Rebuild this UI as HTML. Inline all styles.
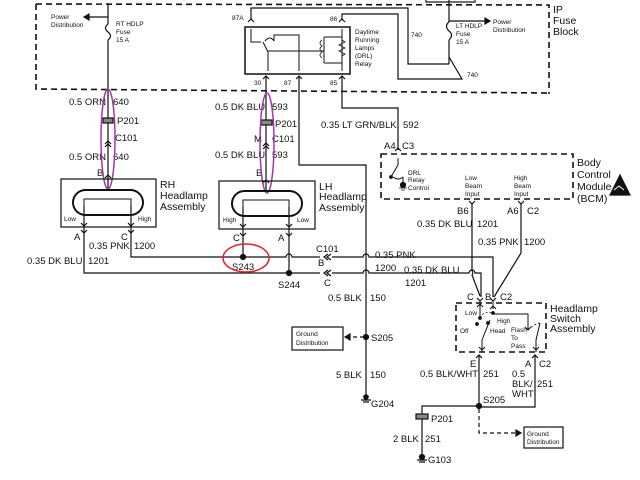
<!DOCTYPE html>
<html><head><style>
html,body{margin:0;padding:0;background:#fff}
svg{display:block}
text{font-family:"Liberation Sans",sans-serif;fill:#111}
.s{font-size:6.5px}
.m{font-size:9.5px}
.l{font-size:10.5px}
</style></head><body>
<svg width="640" height="480" viewBox="0 0 640 480" xmlns="http://www.w3.org/2000/svg" stroke="#111" fill="none" stroke-width="1.2">
<!-- IP fuse block dashed -->
<path d="M36 4 L549 5 L549 94 M36 4 L36 89 L549 93" stroke-dasharray="6 4" stroke-width="1.6"/>
<rect x="426" y="-2" width="49" height="4"/>
<text class="l" x="553" y="13" stroke="none">IP</text>
<text class="l" x="553" y="24" stroke="none">Fuse</text>
<text class="l" x="553" y="35" stroke="none">Block</text>

<!-- RT HDLP -->
<path d="M108 3 V24 M108 40 V191"/>
<path d="M108 24 q-5 4 0 8 q5 4 0 8"/>
<path d="M108 17 H86"/><path d="M84 17 l5 -3 v6 z" fill="#111"/>
<text class="s" x="51" y="19" stroke="none">Power</text>
<text class="s" x="51" y="27" stroke="none">Distribution</text>
<text class="s" x="116" y="26" stroke="none">RT HDLP</text>
<text class="s" x="116" y="34" stroke="none">Fuse</text>
<text class="s" x="116" y="42" stroke="none">15 A</text>
<text class="m" x="69" y="105" stroke="none">0.5 ORN</text><text class="m" x="113" y="105" stroke="none">640</text>
<rect x="103" y="118" width="10" height="5" fill="#888"/>
<text class="m" x="117" y="124" stroke="none">P201</text>
<path d="M105 144 l3 -3 l3 3 M105 147 l3 -3 l3 3"/>
<text class="m" x="115" y="141" stroke="none">C101</text>
<text class="m" x="69" y="160" stroke="none">0.5 ORN</text><text class="m" x="113" y="160" stroke="none">640</text>
<text class="m" x="97" y="176" stroke="none">B</text>
<path d="M105 178 l3 -3 l3 3"/>
<ellipse cx="108" cy="139" rx="7" ry="50" stroke="#a03aa8" stroke-width="1.5"/>
<!-- RH headlamp -->
<rect x="61" y="179" width="95" height="48"/>
<text class="l" x="160" y="188" stroke="none">RH</text>
<text class="l" x="160" y="199" stroke="none">Headlamp</text>
<text class="l" x="160" y="210" stroke="none">Assembly</text>
<rect x="73" y="190" width="70" height="25" rx="12.5" stroke-width="2"/>
<path d="M84 206 V199 H131 V206" stroke-width="1"/>
<path d="M84 206 V233 M131 206 V233"/>
<path d="M81 223 l3 3 l3 -3 M128 223 l3 3 l3 -3"/>
<text class="s" x="64" y="221" stroke="none">Low</text>
<text class="s" x="138" y="221" stroke="none">High</text>
<text class="m" x="74" y="240" stroke="none">A</text><path d="M81 230 l3 3 l3 -3"/>
<text class="m" x="121" y="240" stroke="none">C</text><path d="M128 230 l3 3 l3 -3"/>
<path d="M84 233 V273 H320 M131 233 V257 H286 a3 3 0 0 1 6 0 H320"/>
<text class="m" x="89" y="249" stroke="none">0.35 PNK</text><text class="m" x="134" y="249" stroke="none">1200</text>
<text class="m" x="27" y="264" stroke="none">0.35 DK BLU</text><text class="m" x="88" y="264" stroke="none">1201</text>

<!-- Relay -->
<rect x="245" y="27" width="105" height="47" stroke-width="1.5"/>
<path d="M251 20 V8 H408 V64 H449"/>
<path d="M342 20 V14 H398 V79 H462 L449 57"/>
<text class="s" x="232" y="20" stroke="none">87A</text>
<text class="s" x="330" y="21" stroke="none">86</text>
<text class="s" x="411" y="37" stroke="none">740</text>
<text class="s" x="467" y="77" stroke="none">740</text>
<path d="M248 22 l3 -3 l3 3 M339 22 l3 -3 l3 3"/>
<path d="M251 29 V42 H261 M263 42 L268 52 M265 41 q5 -6 9 0 M274 41 V35 H299 V71 M268 52 V71 M342 29 V71 M324 37 V63 M324 37 H342 M324 63 H342 M268 51 H324" stroke-width="1"/>
<path d="M270 51 H322" stroke-dasharray="3 2" stroke-width="0.8"/>
<path d="M322 40 q-4 3 0 6 q-4 3 0 6 q-4 3 0 6 M342 40 l3 2 l-6 3 l6 3 l-6 3 l6 3 l-3 2" stroke-width="0.8"/>
<text class="s" x="355" y="34" stroke="none">Daytime</text>
<text class="s" x="355" y="42" stroke="none">Running</text>
<text class="s" x="355" y="50" stroke="none">Lamps</text>
<text class="s" x="355" y="58" stroke="none">(DRL)</text>
<text class="s" x="355" y="66" stroke="none">Relay</text>
<path d="M263 79 l3 -3 l3 3 M296 79 l3 -3 l3 3 M339 79 l3 -3 l3 3"/>
<text class="s" x="254" y="85" stroke="none">30</text>
<text class="s" x="284" y="85" stroke="none">87</text>
<text class="s" x="330" y="85" stroke="none">85</text>

<!-- LH feed -->
<path d="M266 76 V193"/>
<text class="m" x="215" y="110" stroke="none">0.5 DK BLU</text><text class="m" x="272" y="110" stroke="none">593</text>
<rect x="261" y="120" width="11" height="5" fill="#888"/>
<text class="m" x="275" y="127" stroke="none">P201</text>
<text class="m" x="254" y="142" stroke="none">M</text>
<text class="m" x="272" y="142" stroke="none">C101</text>
<path d="M263 146 l3 -3 l3 3 M263 149 l3 -3 l3 3"/>
<text class="m" x="215" y="158" stroke="none">0.5 DK BLU</text><text class="m" x="272" y="158" stroke="none">593</text>
<text class="m" x="256" y="176" stroke="none">B</text>
<path d="M263 183 l3 -3 l3 3"/>
<ellipse cx="267" cy="143" rx="7" ry="50" stroke="#a03aa8" stroke-width="1.5"/>
<!-- LH headlamp -->
<rect x="219" y="181" width="96" height="48"/>
<text class="l" x="319" y="190" stroke="none">LH</text>
<text class="l" x="319" y="200" stroke="none">Headlamp</text>
<text class="l" x="319" y="211" stroke="none">Assembly</text>
<rect x="232" y="191" width="70" height="25" rx="12.5" stroke-width="2"/>
<path d="M243 207 V200 H289 V207" stroke-width="1"/>
<path d="M243 207 V257 M289 207 V273"/>
<path d="M240 224 l3 3 l3 -3 M286 224 l3 3 l3 -3 M240 233 l3 3 l3 -3 M286 233 l3 3 l3 -3"/>
<text class="s" x="223" y="222" stroke="none">High</text>
<text class="s" x="297" y="222" stroke="none">Low</text>
<text class="m" x="233" y="241" stroke="none">C</text>
<text class="m" x="278" y="241" stroke="none">A</text>
<circle cx="243" cy="257" r="2.5" fill="#111"/>
<circle cx="289" cy="273" r="2.5" fill="#111"/>
<text class="m" x="232" y="270" stroke="none">S243</text>
<text class="m" x="278" y="288" stroke="none">S244</text>
<ellipse cx="246" cy="258" rx="23" ry="14" stroke="#e0262a" stroke-width="1.5"/>

<!-- C101 -->
<text class="m" x="316" y="252" stroke="none">C101</text>
<text class="m" x="318" y="266" stroke="none">B</text>
<text class="m" x="324" y="286" stroke="none">C</text>
<path d="M328 254 l-4 3 l4 3 M331 254 l-4 3 l4 3 M328 270 l-4 3 l4 3 M331 270 l-4 3 l4 3"/>
<path d="M332 257 H363 a3 3 0 0 1 6 0 H493 V297 M332 273 H363 a3 3 0 0 1 6 0 H469 a3 3 0 0 1 6 0 H481 V297"/>
<text class="m" x="375" y="258" stroke="none">0.35 PNK</text>
<text class="m" x="375" y="271" stroke="none">1200</text>
<text class="m" x="404" y="273" stroke="none">0.35 DK BLU</text>
<text class="m" x="405" y="286" stroke="none">1201</text>

<!-- 87 / ground -->
<path d="M299 76 V165 H366 V400"/>
<text class="m" x="328" y="301" stroke="none">0.5 BLK</text><text class="m" x="370" y="301" stroke="none">150</text>
<circle cx="366" cy="337" r="2.5" fill="#111"/>
<text class="m" x="371" y="341" stroke="none">S205</text>
<path d="M364 337 H350" stroke-dasharray="4 3"/><path d="M345 337 l5 -3 v6 z" fill="#111"/>
<rect x="292" y="327" width="51" height="23"/>
<text class="s" x="296" y="336" stroke="none">Ground</text>
<text class="s" x="296" y="345" stroke="none">Distribution</text>
<text class="m" x="336" y="378" stroke="none">5 BLK</text><text class="m" x="370" y="378" stroke="none">150</text>
<circle cx="366" cy="397" r="2.2" fill="#111"/><path d="M361 400 H371 M363 402 H369"/>
<text class="m" x="371" y="407" stroke="none">G204</text>

<!-- LT HDLP -->
<path d="M449 0 V22 M449 40 V64"/>
<path d="M449 22 q-5 4 0 9 q5 4 0 9"/>
<path d="M449 21 H486"/><path d="M490 21 l-5 -3 v6 z" fill="#111"/>
<text class="s" x="493" y="24" stroke="none">Power</text>
<text class="s" x="493" y="32" stroke="none">Distribution</text>
<text class="s" x="456" y="28" stroke="none">LT HDLP</text>
<text class="s" x="456" y="36" stroke="none">Fuse</text>
<text class="s" x="456" y="44" stroke="none">15 A</text>

<!-- 592 -->
<path d="M342 76 V108 H398 V150"/>
<text class="m" x="321" y="128" stroke="none">0.35 LT GRN/BLK</text><text class="m" x="403" y="128" stroke="none">592</text>
<text class="m" x="384" y="149" stroke="none">A4</text><text class="m" x="402" y="149" stroke="none">C3</text>
<path d="M395 151 l3 -3 l3 3"/>
<!-- BCM -->
<path d="M381 154 H573 V199 H381 Z" stroke-dasharray="6 4" stroke-width="1.6"/>
<path d="M398 158 V165 L391 177 M393 177 q5 4 10 0 M403 177 V183" stroke-width="1"/>
<circle cx="391" cy="177" r="1.3" fill="#111"/>
<circle cx="403" cy="185" r="2.5" fill="#111"/><path d="M399 188 H407 M401 190 H405" stroke-width="0.8"/>
<text class="s" x="408" y="175" stroke="none">DRL</text>
<text class="s" x="408" y="182" stroke="none">Relay</text>
<text class="s" x="408" y="190" stroke="none">Control</text>
<text class="s" x="465" y="180" stroke="none">Low</text>
<text class="s" x="465" y="188" stroke="none">Beam</text>
<text class="s" x="465" y="196" stroke="none">Input</text>
<text class="s" x="514" y="180" stroke="none">High</text>
<text class="s" x="514" y="188" stroke="none">Beam</text>
<text class="s" x="514" y="196" stroke="none">Input</text>
<text class="l" x="577" y="166" stroke="none">Body</text>
<text class="l" x="577" y="178" stroke="none">Control</text>
<text class="l" x="577" y="190" stroke="none">Module</text>
<text class="l" x="577" y="202" stroke="none">(BCM)</text>
<path d="M620 175 L630 195 L610 195 Z" fill="#111"/>
<path d="M614 190 l5 -4 l5 4" stroke="#fff" stroke-width="1"/>
<text class="m" x="457" y="214" stroke="none">B6</text>
<text class="m" x="507" y="214" stroke="none">A6</text>
<text class="m" x="527" y="214" stroke="none">C2</text>
<path d="M469 201 l3 3 l3 -3 M518 201 l3 3 l3 -3"/>
<path d="M472 203 V271 a3 3 0 0 1 0 4 L480 296 M521 203 V253 L494 297"/>
<text class="m" x="417" y="227" stroke="none">0.35 DK BLU</text><text class="m" x="477" y="227" stroke="none">1201</text>
<text class="m" x="478" y="245" stroke="none">0.35 PNK</text><text class="m" x="524" y="245" stroke="none">1200</text>

<!-- Headlamp switch -->
<path d="M456 303 H546 V352 H456 Z" stroke-dasharray="6 4" stroke-width="1.6"/>
<text class="m" x="467" y="300" stroke="none">C</text>
<text class="m" x="485" y="300" stroke="none">B</text>
<text class="m" x="500" y="300" stroke="none">C2</text>
<path d="M477 298 l3 3 l3 -3 M490 298 l3 3 l3 -3"/>
<path d="M480 301 V318 M477 307 l3 -3 l3 3 M493 301 V309 M490 309 l3 -3 l3 3 M493 314 H528 V330 M525 327 l3 3 l3 -3 M482 352 V340 L490 320 M536 352 V340 L540 323 M479 347 l3 3 l3 -3 M533 347 l3 3 l3 -3" stroke-width="1"/>
<path d="M480 318 q4 -8 13 -5 M528 330 q6 -6 12 -7" stroke-dasharray="2 2" stroke-width="0.8"/>
<circle cx="480" cy="318" r="1.3" fill="#111"/><circle cx="477" cy="324" r="1.3" fill="#111"/><circle cx="488" cy="323" r="1.3" fill="#111"/><circle cx="493" cy="313" r="1.3" fill="#111"/>
<text class="s" x="465" y="315" stroke="none">Low</text>
<text class="s" x="497" y="323" stroke="none">High</text>
<text class="s" x="460" y="333" stroke="none">Off</text>
<text class="s" x="490" y="333" stroke="none">Head</text>
<text class="s" x="511" y="332" stroke="none">Flash</text>
<text class="s" x="511" y="340" stroke="none">To</text>
<text class="s" x="511" y="348" stroke="none">Pass</text>
<text class="l" x="550" y="312" stroke="none">Headlamp</text>
<text class="l" x="550" y="322" stroke="none">Switch</text>
<text class="l" x="550" y="332" stroke="none">Assembly</text>
<path d="M476 358 l3 -3 l3 3 M532 358 l3 -3 l3 3"/>
<text class="m" x="470" y="367" stroke="none">E</text>
<text class="m" x="525" y="367" stroke="none">A</text><text class="m" x="539" y="367" stroke="none">C2</text>
<path d="M479 355 V406 H422 V458 M535 355 V407 H479"/>
<text class="m" x="420" y="377" stroke="none">0.5 BLK/WHT</text><text class="m" x="483" y="377" stroke="none">251</text>
<text class="m" x="512" y="377" stroke="none">0.5</text>
<text class="m" x="512" y="387" stroke="none">BLK/</text>
<text class="m" x="512" y="397" stroke="none">WHT</text>
<text class="m" x="537" y="387" stroke="none">251</text>
<circle cx="479" cy="406" r="2.5" fill="#111"/>
<text class="m" x="483" y="403" stroke="none">S205</text>
<rect x="416" y="414" width="12" height="5" fill="#888"/>
<text class="m" x="431" y="422" stroke="none">P201</text>
<text class="m" x="393" y="442" stroke="none">2 BLK</text><text class="m" x="425" y="442" stroke="none">251</text>
<circle cx="422" cy="457" r="2.5" fill="#111"/><path d="M417 460 H427 M419 462 H425"/>
<text class="m" x="428" y="463" stroke="none">G103</text>
<path d="M479 409 V433 H515" stroke-dasharray="4 3"/><path d="M521 433 l-5 -3 v6 z" fill="#111"/>
<rect x="524" y="427" width="39" height="21"/>
<text class="s" x="527" y="436" stroke="none">Ground</text>
<text class="s" x="527" y="444" stroke="none">Distribution</text>
</svg>
</body></html>
